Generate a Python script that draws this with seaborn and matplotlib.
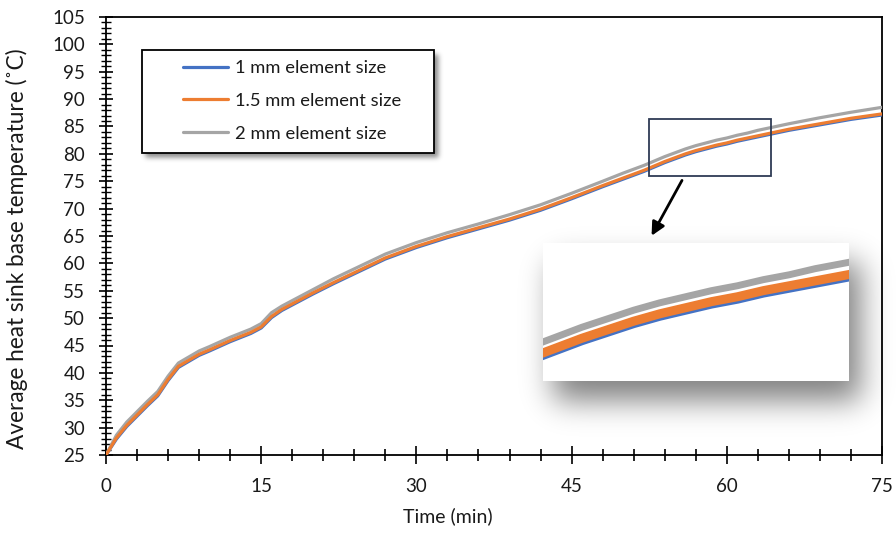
import numpy as np
import pandas as pd
import matplotlib
matplotlib.use("Agg")
import matplotlib.pyplot as plt
from matplotlib.patches import Rectangle
from matplotlib.ticker import MultipleLocator
from math import erf
import seaborn as sns

# ---- data ----
time_min = [0, 1, 2, 3, 4, 5, 6, 7, 8, 9, 10, 12, 14, 15, 16, 17, 18, 20, 22, 24,
            27, 30, 33, 36, 39, 42, 45, 48, 50, 52, 53, 54, 55, 56, 57, 58, 59, 60, 61, 62,
            63, 64, 66, 69, 72, 75]
temp_1mm = [25.0, 27.9, 30.2, 32.1, 34.0, 35.8, 38.6, 41.0, 42.1, 43.2, 44.0, 45.7, 47.2, 48.2,
            50.1, 51.4, 52.4, 54.4, 56.3, 58.1, 60.8, 62.9, 64.7, 66.3, 67.9, 69.7, 71.8,
            74.0, 75.4, 76.8, 77.6, 78.4, 79.1, 79.8, 80.4, 80.9, 81.4, 81.8, 82.3, 82.7,
            83.1, 83.5, 84.3, 85.3, 86.3, 87.1]
temp_15mm = [25.0, 28.1, 30.4, 32.3, 34.2, 36.0, 38.8, 41.2, 42.3, 43.4, 44.2, 45.9, 47.4, 48.4,
             50.3, 51.6, 52.6, 54.6, 56.5, 58.3, 61.0, 63.1, 64.9, 66.5, 68.1, 69.9, 72.0,
             74.2, 75.6, 77.0, 77.8, 78.6, 79.3, 80.0, 80.6, 81.1, 81.6, 82.0, 82.5, 82.9,
             83.3, 83.7, 84.5, 85.5, 86.5, 87.3]
temp_2mm = [25.0, 28.6, 31.0, 32.9, 34.8, 36.6, 39.4, 41.8, 42.9, 44.0, 44.8, 46.5, 48.0, 49.0,
            51.0, 52.2, 53.2, 55.2, 57.2, 59.0, 61.7, 63.8, 65.6, 67.2, 68.9, 70.7, 72.8,
            75.0, 76.5, 77.9, 78.7, 79.5, 80.2, 80.9, 81.5, 82.0, 82.5, 82.9, 83.4, 83.8,
            84.3, 84.7, 85.5, 86.6, 87.6, 88.5]
series_labels = ["1 mm element size", "1.5 mm element size", "2 mm element size"]
series_colors = ["#4472C4", "#ED7D31", "#A5A5A5"]

df = pd.DataFrame({
    "Time (min)": time_min * 3,
    "T": temp_1mm + temp_15mm + temp_2mm,
    "Series": [series_labels[0]] * len(time_min) + [series_labels[1]] * len(time_min)
              + [series_labels[2]] * len(time_min),
})

sns.set_theme(style="ticks")
plt.rcParams["font.family"] = ["Lato", "DejaVu Sans"]
TXT = "#1a1a1a"

W, H = 896, 535
fig = plt.figure(figsize=(W / 100, H / 100), dpi=100)
fig.patch.set_facecolor("white")
ax = fig.add_axes([106 / W, 1 - 455 / H, (882 - 106) / W, (455 - 17) / H], zorder=0)
ax.patch.set_visible(False)

order = [0, 2, 1]  # blue, gray, orange on top
for i in order:
    sub = df[df["Series"] == series_labels[i]]
    sns.lineplot(data=sub, x="Time (min)", y="T", color=series_colors[i], lw=2.3,
                 ax=ax, label=series_labels[i], zorder=3 + (1 if i == 1 else 0))
for ln in ax.lines:
    ln.set_solid_joinstyle("round")
    ln.set_solid_capstyle("round")
handles, labels = ax.get_legend_handles_labels()
if ax.get_legend() is not None:
    ax.get_legend().remove()

ax.set_xlim(0, 75)
ax.set_ylim(25, 105)
ax.xaxis.set_major_locator(MultipleLocator(15))
ax.xaxis.set_minor_locator(MultipleLocator(3))
ax.yaxis.set_major_locator(MultipleLocator(5))
ax.yaxis.set_minor_locator(MultipleLocator(1))
ax.tick_params(axis="x", which="major", direction="inout", length=13, width=1.2,
               labelsize=13.5, pad=10, color="black", labelcolor=TXT)
ax.tick_params(axis="x", which="minor", direction="inout", length=9, width=1.2, color="black")
ax.tick_params(axis="y", which="major", direction="inout", length=10, width=1.2,
               labelsize=13.5, pad=10, color="black", labelcolor=TXT)
ax.tick_params(axis="y", which="minor", direction="inout", length=7, width=1.0, color="black")
for s in ax.spines.values():
    s.set_color("black")
    s.set_linewidth(1.3)
ax.set_xlabel("Time (min)", fontsize=14, color=TXT)
ax.set_ylabel("Average heat sink base temperature (˚C)", fontsize=16.3, color=TXT)
ax.xaxis.set_label_coords(0.44, -0.12)
ax.yaxis.set_label_coords(-0.10, 0.47)

# ---- shadows (legend + inset) as one soft image ----
verf = np.vectorize(erf)


def soft_rect(x0, y0, x1, y1, sigma):
    yy = np.arange(H)[:, None]
    xx = np.arange(W)[None, :]
    s = sigma * np.sqrt(2)
    fx = 0.5 * (verf((xx - x0) / s) - verf((xx - x1) / s))
    fy = 0.5 * (verf((yy - y0) / s) - verf((yy - y1) / s))
    return fx * fy


alpha = 0.5 * soft_rect(553, 262, 860, 400, 15.0)
alpha = np.maximum(alpha, 0.45 * soft_rect(145, 54, 438, 157, 2.5))
shadow = np.zeros((H, W, 4))
shadow[..., 3] = np.clip(alpha, 0, 1)
fig.figimage(shadow, xo=0, yo=0, origin="upper", zorder=1)

# legend (manual frame to match padding)
frame = Rectangle((142 / W, 1 - 153 / H), (434 - 142) / W, (153 - 50) / H,
                  transform=fig.transFigure, facecolor="white", edgecolor="black",
                  lw=1.3, zorder=2)
fig.patches.append(frame)
hl = dict(zip(labels, handles))
leg = fig.legend([hl[l] for l in series_labels], series_labels, loc="upper left",
                 bbox_to_anchor=(183 / W, 1 - 60 / H), bbox_transform=fig.transFigure,
                 borderaxespad=0, borderpad=0, fontsize=13.2, frameon=False,
                 handlelength=2.45, handletextpad=0.38, labelspacing=0.92)
leg.set_zorder(3)
for line in leg.get_lines():
    line.set_linewidth(2.3)
for t in leg.get_texts():
    t.set_color(TXT)

# zoom rectangle and arrow
x0, x1, y0, y1 = 52.5, 64.3, 76.0, 86.4
ax.add_patch(Rectangle((x0, y0), x1 - x0, y1 - y0, fill=False, edgecolor="#2F3B55",
                       lw=1.3, zorder=6))
ax.annotate("", xy=(52.6, 64.6), xytext=(55.8, 75.6),
            arrowprops=dict(arrowstyle="-|>", color="black", lw=2.0, mutation_scale=20),
            zorder=7)

# inset (magnified view)
il, ib, iw, ih = 543 / W, 1 - 381 / H, 306 / W, 138 / H
ins = fig.add_axes([il, ib, iw, ih], zorder=9)
ins.set_facecolor("white")
for i, lw in zip(order, [6.5, 5.0, 6.5]):
    sub = df[df["Series"] == series_labels[i]]
    sns.lineplot(data=sub, x="Time (min)", y="T", color=series_colors[i], lw=lw, ax=ins,
                 legend=False)
for ln in ins.lines:
    ln.set_solid_joinstyle("round")
ins.set_xlim(x0, x1)
ins.set_ylim(75.1, 86.4)
ins.set_xticks([])
ins.set_yticks([])
ins.set_xlabel("")
ins.set_ylabel("")
for s in ins.spines.values():
    s.set_visible(False)

fig.savefig("out.png", dpi=100)
